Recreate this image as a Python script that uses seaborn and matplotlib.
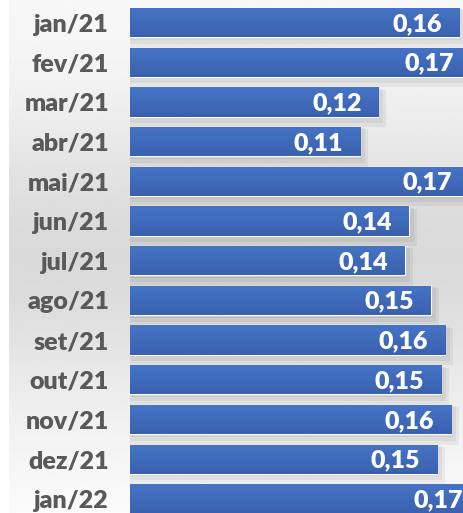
import numpy as np
import pandas as pd
import matplotlib
matplotlib.use("Agg")
import matplotlib.pyplot as plt
import seaborn as sns

meses = ["jan/21", "fev/21", "mar/21", "abr/21", "mai/21", "jun/21", "jul/21",
         "ago/21", "set/21", "out/21", "nov/21", "dez/21", "jan/22"]
valores = [0.163, 0.169, 0.123, 0.114, 0.168, 0.138, 0.136,
           0.149, 0.156, 0.154, 0.159, 0.152, 0.173]

df = pd.DataFrame({"mes": meses, "valor": valores})

sns.set_theme(style="white")
plt.rcParams["font.family"] = ["Lato", "DejaVu Sans"]

W, H = 464, 513
fig = plt.figure(figsize=(W / 100, H / 100), dpi=100)
fig.patch.set_facecolor("white")

# fundo cinza com degrade vertical
bg = fig.add_axes([9 / W, 0, 1 - 9 / W, 1])
t = np.linspace(0, 1, 256)
tons = 0.975 - 0.12 * np.exp(-((t - 0.5) / 0.28) ** 2)
tons[-40:] = np.maximum(tons[-40:], np.linspace(tons[-40], 0.985, 40))
bg.imshow(np.repeat(tons[:, None], 2, axis=1), cmap="gray", vmin=0, vmax=1,
          aspect="auto", extent=[0, 1, 0, 1], origin="upper")
bg.set_axis_off()

ax = fig.add_axes([130 / W, 0, (W - 130) / W, 1])
ax.patch.set_alpha(0)
sns.barplot(data=df, x="valor", y="mes", orient="h", color="#4472C4",
            width=0.74, ax=ax, zorder=3)

px = 2020.0  # pixels por unidade
pitch = 39.7

# degrade e sombra nas barras
grad = np.linspace(0, 1, 64)[:, None]
cmap_bar = matplotlib.colors.LinearSegmentedColormap.from_list(
    "bar", ["#4674C6", "#3A61AE"])
for p in ax.patches:
    x0, y0 = p.get_x(), p.get_y()
    w, h = p.get_width(), p.get_height()
    for k in range(3):
        dx = (2 + 3 * k) / px
        dy = (2 + 3 * k) / pitch
        ax.add_patch(plt.Rectangle((x0, y0 + dy * 0.3), w + dx, h + dy,
                                   color="black", alpha=0.05, lw=0, zorder=1))
    im = ax.imshow(grad, cmap=cmap_bar, aspect="auto",
                   extent=[x0, x0 + w, y0 + h, y0], origin="upper", zorder=4)
    im.set_clip_path(p)
ax.set_ylim((H - 22.5) / pitch, -22.5 / pitch)
ax.set_xlim(0, (W - 130) / px)

for i, v in enumerate(valores):
    ax.annotate(f"{v:.2f}".replace(".", ","), (v, i), xytext=(-12.2, -1),
                textcoords="offset points", ha="right", va="center",
                color="white", fontsize=18, fontweight="heavy",
                annotation_clip=False, zorder=6)

ax.set_xlabel("")
ax.set_ylabel("")
ax.set_xticks([])
ax.tick_params(axis="y", length=0, pad=15)
for lab in ax.get_yticklabels():
    lab.set_fontsize(18)
    lab.set_fontweight("heavy")
    lab.set_color("#595959")
sns.despine(ax=ax, left=True, bottom=True)

fig.savefig("out.png", dpi=100)
